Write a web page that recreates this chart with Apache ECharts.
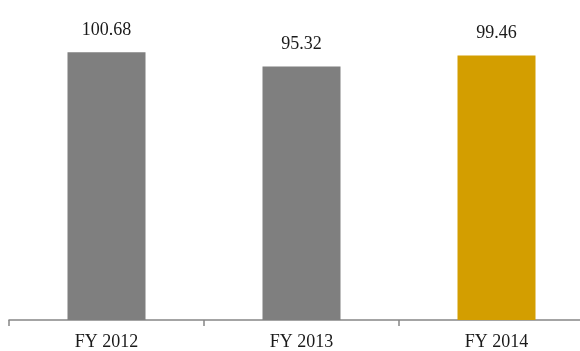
<!DOCTYPE html>
<html><head><meta charset="utf-8">
<script src="https://cdn.jsdelivr.net/npm/echarts@6/dist/echarts.min.js"></script>
<style>html,body{margin:0;padding:0;background:#fff}#c{width:580px;height:351px}</style>
</head><body><div id="c"></div>
<script>
const categories = ['FY 2012', 'FY 2013', 'FY 2014'];
const values = [100.68, 95.32, 99.46];
const barColors = ['#7f7f7f', '#7f7f7f', '#d39e00'];

const chart = echarts.init(document.getElementById('c'));
chart.setOption({
  animation: false,
  grid: { left: 9, width: 585, top: 1, bottom: 31, outerBoundsMode: 'none', containLabel: false },
  xAxis: {
    type: 'category',
    data: categories,
    axisLine: { lineStyle: { color: '#868686', width: 1.5 } },
    axisTick: { show: true, length: 6, lineStyle: { color: '#868686', width: 1.5 } },
    axisLabel: { color: '#1a1a1a', fontFamily: 'Liberation Serif', fontSize: 18, margin: 13 }
  },
  yAxis: { type: 'value', min: 0, max: 120, show: false, splitLine: { show: false } },
  series: [{
    type: 'bar',
    barWidth: '40%',
    data: values.map((v, i) => ({ value: v, itemStyle: { color: barColors[i] } })),
    label: {
      show: true, position: 'top', distance: 13,
      color: '#1a1a1a', fontFamily: 'Liberation Serif', fontSize: 18,
      formatter: p => p.value.toFixed(2)
    }
  }]
});
</script></body></html>
